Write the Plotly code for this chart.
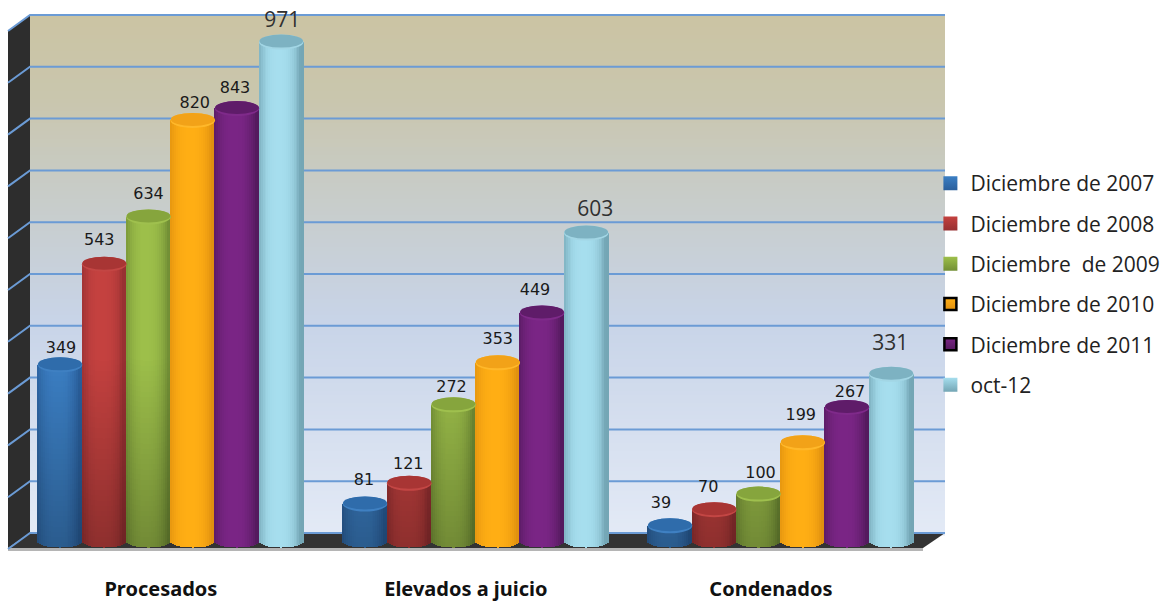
import plotly.graph_objects as go

categories = ["Procesados", "Elevados a juicio", "Condenados"]
series_names = ["Diciembre de 2007", "Diciembre de 2008", "Diciembre\u00a0 de 2009",
                "Diciembre de 2010", "Diciembre de 2011", "oct-12"]
dic_2007 = [349, 81, 39]
dic_2008 = [543, 121, 70]
dic_2009 = [634, 272, 100]
dic_2010 = [820, 353, 199]
dic_2011 = [843, 449, 267]
oct_12 = [971, 603, 331]
series_values = [dic_2007, dic_2008, dic_2009, dic_2010, dic_2011, oct_12]

# style: (edge, centre, cap, rim, bottom-darkening)
styles = [("#2a5f9c", "#3b7fc4", "#2f6cab", "#3f80c2", 0.27),
          ("#973032", "#c4413f", "#a83534", "#c34644", 0.27),
          ("#728f35", "#9dbf4a", "#86a53d", "#9fc04e", 0.27),
          ("#e0900f", "#ffae14", "#f2a218", "#ffb82a", 0.0),
          ("#541a5e", "#7a2585", "#5f1c69", "#7f2a8a", 0.0),
          ("#74a6b5", "#a6deee", "#7db2c2", "#a2d6e5", 0.0)]
# label nudges in pixels (dx from bar centre, dy above bar top) per series/category
label_dx = [[1, -1, -9], [-5, -1, -6], [0, -2, 2], [2, 0, -2], [-2, -7, 3], [1, 9, -1]]
label_dy = [16, 23, 22], [23, 18, 22], [22, 17, 20], [16, 23, 27], [19, 22, 14], [20, 22, 29]

PX_PER_UNIT = 0.519
ZERO_PX = 546
PLOT_BOTTOM = 560
W, H = 1163, 603
GROUP_X = [60, 365, 670]
STEP = 44.25
BAR_W = 44.6
ELL = 7.5
N = 23


def val(py):
    return (ZERO_PX - py) / PX_PER_UNIT


def pap(py):
    return (PLOT_BOTTOM - py) / PLOT_BOTTOM


def to_rgb(h):
    return [int(h[i:i + 2], 16) for i in (1, 3, 5)]


def lerp(a, b, t):
    ca, cb = to_rgb(a), to_rgb(b)
    return "rgb(%d,%d,%d)" % tuple(round(x + (y - x) * t) for x, y in zip(ca, cb))


def lerp_hex(a, b, t):
    ca, cb = to_rgb(a), to_rgb(b)
    return "#%02x%02x%02x" % tuple(round(x + (y - x) * t) for x, y in zip(ca, cb))


shapes = []
stops = [(15, "#cbc4a3"), (100, "#c9c6ae"), (190, "#c8ccc8"), (320, "#c8d4e8"), (533, "#e3eaf6")]
for py in range(15, 533, 4):
    for (y0, c0), (y1, c1) in zip(stops, stops[1:]):
        if y0 <= py <= y1:
            col = lerp(c0, c1, (py - y0) / (y1 - y0))
            break
    shapes.append(dict(type="rect", xref="x", yref="paper", x0=30, x1=945, y0=pap(py + 4.5), y1=pap(py),
                       fillcolor=col, line_width=0, layer="below"))


def poly(points, **kw):
    d = "M" + " L".join(f"{x},{pap(y)}" for x, y in points) + " Z"
    return dict(type="path", path=d, xref="x", yref="paper", layer="below", **kw)


shapes.append(poly([(8, 31), (30, 15), (30, 533), (8, 548)], fillcolor="#2d2d2d", line_width=0))
shapes.append(poly([(8, 548), (923, 548), (945, 533), (30, 533)], fillcolor="#333333", line_width=0))
shapes.append(dict(type="rect", xref="x", yref="paper", x0=8, x1=923, y0=pap(551), y1=pap(548),
                   fillcolor="#b5b5b5", line_width=0, layer="below"))
grid_px = [15 + 51.8 * k for k in range(11)]
for py in grid_px:
    d = f"M8,{pap(py + 16)} L30,{pap(py)} L945,{pap(py)}"
    shapes.append(dict(type="path", path=d, xref="x", yref="paper", layer="below",
                       line=dict(color="#6b9bd5", width=2), fillcolor="rgba(0,0,0,0)"))

fig = go.Figure()
ts = [-1 + 2 * (i + 0.5) / N for i in range(N)]
SEG = 10  # value units per vertical shading segment
DARK_SPAN = 360
for s, (name, values, st) in enumerate(zip(series_names, series_values, styles)):
    edge, centre, cap, rim, dark = st
    xs, ys, bases, cols = [], [], [], []
    for g, v in enumerate(values):
        c = GROUP_X[g] + STEP * s
        for t in ts:
            bottom_px = ZERO_PX - 5 + 6.5 * (1 - t * t) ** 0.5
            b = val(bottom_px)
            k = min(abs(t + 0.1) / 0.98, 1)
            strip = lerp_hex(centre, edge, k ** 2.6)
            lo = b
            while lo < v:
                hi = v if (dark == 0 or lo + SEG >= v) else lo + SEG
                f = dark * max(0, 1 - max(lo, 0) / DARK_SPAN)
                xs.append(c + t * BAR_W / 2)
                ys.append(hi - lo + (0.6 if hi < v else 0))
                bases.append(lo)
                cols.append(lerp(strip, "#000000", f))
                lo = hi
        ry = ELL / PX_PER_UNIT
        shapes.append(dict(type="circle", xref="x", yref="y", x0=c - BAR_W / 2, x1=c + BAR_W / 2,
                           y0=v - ry, y1=v + ry, fillcolor=rim, line_width=0))
        shapes.append(dict(type="circle", xref="x", yref="y", x0=c - BAR_W / 2 + 0.5, x1=c + BAR_W / 2 - 0.5,
                           y0=v - ry + 2 / PX_PER_UNIT, y1=v + ry, fillcolor=cap, line_width=0))
    fig.add_trace(go.Bar(x=xs, y=ys, base=bases, width=BAR_W / N + 0.5, marker=dict(color=cols, line_width=0),
                         showlegend=False, hoverinfo="skip"))
    lx = [GROUP_X[g] + STEP * s + label_dx[s][g] for g in range(3)]
    ly = [values[g] + label_dy[s][g] / PX_PER_UNIT for g in range(3)]
    is_big = s == 5
    fig.add_trace(go.Scatter(x=lx, y=ly, mode="text", text=[str(v) for v in values], showlegend=False,
                             hoverinfo="skip",
                             textfont=dict(family="Open Sans" if is_big else "DejaVu Sans",
                                           size=21 if is_big else 16, color="#303030" if is_big else "#1a1a1a")))
    dark_border = s in (3, 4)
    fig.add_trace(go.Scatter(x=[None], y=[None], mode="markers", name=name, legendgroup=name,
                             marker=dict(symbol="square", size=12 if dark_border else 14, color=centre,
                                         gradient=dict(type="vertical", color=edge),
                                         line=dict(color="#000000" if dark_border else edge,
                                                   width=2.5 if dark_border else 0))))

fig.update_layout(
    width=W, height=H, margin=dict(l=0, r=0, t=0, b=H - PLOT_BOTTOM, pad=0, autoexpand=False),
    paper_bgcolor="white", plot_bgcolor="white", barmode="overlay", bargap=0,
    shapes=shapes,
    xaxis=dict(range=[0, W], showgrid=False, zeroline=False, showline=False, ticks="",
               tickmode="array", tickvals=[g + STEP * 2.28 for g in GROUP_X], ticktext=categories,
               ticklabelstandoff=15, tickfont=dict(family="Noto Sans", size=20, color="#111111", weight="bold")),
    yaxis=dict(range=[val(PLOT_BOTTOM), val(0)], showgrid=False, zeroline=False, showline=False,
               showticklabels=False, ticks=""),
    legend=dict(x=0.8, y=1 - 163 / 560, xanchor="left", yanchor="top", bgcolor="rgba(0,0,0,0)",
                tracegroupgap=10, font=dict(family="Open Sans", size=21, color="#222222"), traceorder="grouped"),
)
fig.write_html("out.html", post_script="document.body.style.margin='0';", config=dict(displayModeBar=False))
